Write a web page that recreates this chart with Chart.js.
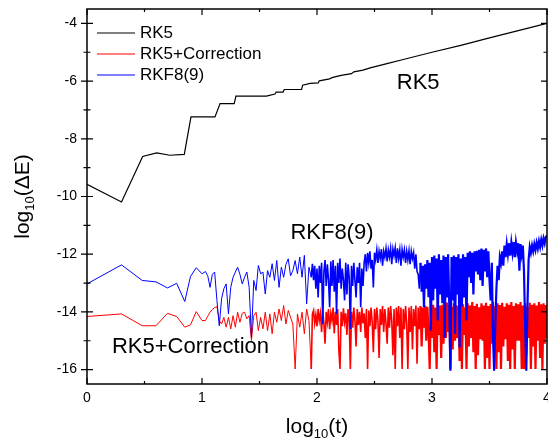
<!DOCTYPE html>
<html>
<head>
<meta charset="utf-8">
<script src="https://cdn.jsdelivr.net/npm/chart.js@4"></script>
<style>
html, body { margin: 0; padding: 0; background: #fff; }
</style>
</head>
<body>
<canvas id="myChart" width="548" height="442"></canvas>
<script>
// RK5 energy error (log10 t, log10 dE)
var rk5X = [0, 0.30, 0.484, 0.606, 0.72, 0.846, 0.904, 1.113, 1.157, 1.28, 1.295, 1.56, 1.635, 1.645, 1.705, 1.715,
  1.866, 1.875, 1.94, 2.01, 2.02, 2.11, 2.13, 2.21, 2.30, 2.32, 2.40, 2.47, 2.6, 2.75, 3.0, 3.25, 3.5, 3.75, 4.0];
var rk5Y = [-9.58, -10.19, -8.61, -8.49, -8.57, -8.54, -7.24, -7.24, -6.78, -6.78, -6.52, -6.52, -6.45, -6.38, -6.38, -6.29,
  -6.29, -6.14, -6.08, -6.06, -5.99, -5.92, -5.88, -5.8, -5.74, -5.68, -5.62, -5.53, -5.4, -5.25, -5.0, -4.76, -4.5, -4.25, -4.0];

// shared sample times for the two noisy runs
var logT = [
  0, 0.3, 0.48, 0.6, 0.7, 0.78, 0.85, 0.9, 0.95, 1,
  1.03, 1.05, 1.07, 1.09, 1.11, 1.13, 1.15, 1.17, 1.19, 1.21,
  1.23, 1.25, 1.27, 1.29, 1.31, 1.33, 1.35, 1.37, 1.39, 1.41,
  1.43, 1.45, 1.47, 1.49, 1.51, 1.53, 1.55, 1.57, 1.59, 1.61,
  1.63, 1.65, 1.67, 1.69, 1.71, 1.73, 1.75, 1.77, 1.79, 1.81,
  1.83, 1.85, 1.87, 1.89, 1.91, 1.93,
  1.95, 1.96, 1.97, 1.98, 1.99,
  2.00, 2.01, 2.02, 2.03, 2.04, 2.05, 2.06, 2.07, 2.08, 2.09,
  2.10, 2.11, 2.12, 2.13, 2.14, 2.15, 2.16, 2.17, 2.18, 2.19,
  2.20, 2.21, 2.22, 2.23, 2.24, 2.25, 2.26, 2.27, 2.28, 2.29,
  2.30, 2.31, 2.32, 2.33, 2.34, 2.35, 2.36, 2.37, 2.38, 2.39,
  2.40, 2.41, 2.42, 2.43, 2.44, 2.45, 2.46, 2.47, 2.48, 2.49,
  2.50, 2.51, 2.52, 2.53, 2.54, 2.55, 2.56, 2.57, 2.58, 2.59,
  2.60, 2.61, 2.62, 2.63, 2.64, 2.65, 2.66, 2.67, 2.68, 2.69,
  2.70, 2.71, 2.72, 2.73, 2.74, 2.75, 2.76, 2.77, 2.78, 2.79,
  2.80, 2.81, 2.82, 2.83, 2.84, 2.85, 2.86, 2.87, 2.88, 2.89,
  2.90, 2.91, 2.92, 2.93, 2.94, 2.95, 2.96, 2.97, 2.98, 2.99,
  3.00, 3.01, 3.02, 3.03, 3.04, 3.05, 3.06, 3.07, 3.08, 3.09,
  3.10, 3.11, 3.12, 3.13, 3.14, 3.15, 3.16, 3.17, 3.18, 3.19,
  3.20, 3.21, 3.22, 3.23, 3.24, 3.25, 3.26, 3.27, 3.28, 3.29,
  3.30, 3.31, 3.32, 3.33, 3.34, 3.35, 3.36, 3.37, 3.38, 3.39,
  3.40, 3.41, 3.42, 3.43, 3.44, 3.45, 3.46, 3.47, 3.48, 3.49,
  3.50, 3.51, 3.52, 3.53, 3.54, 3.55, 3.56, 3.57, 3.58, 3.59,
  3.60, 3.61, 3.62, 3.63, 3.64, 3.65, 3.66, 3.67, 3.68, 3.69,
  3.70, 3.71, 3.72, 3.73, 3.74, 3.75, 3.76, 3.77, 3.78, 3.79,
  3.80, 3.81, 3.82, 3.83, 3.84, 3.85, 3.86, 3.87, 3.88, 3.89,
  3.90, 3.91, 3.92, 3.93, 3.94, 3.95, 3.96, 3.97, 3.98, 3.99,
  4.00
];

var correctedY = [
  -14.16, -14.07, -14.48, -14.48, -14.05, -14.16, -14.53, -14.45, -13.99, -14.3,
  -14.3, -14.15, -14.01, -13.92, -13.85, -13.82, -14.3, -14.42, -14.19, -14.53,
  -14.19, -14.59, -14.13, -14.53, -14.01, -14.36, -14.05, -14.01, -14.24, -14.13,
  -14.99, -14.13, -14.01, -14.65, -14.19, -14.59, -14.01, -14.65, -14.07, -14.76,
  -14.01, -14.36, -13.9, -14.3, -13.78, -14.42, -13.95, -14.19, -14.42, -15.98,
  -14.07, -14.53, -14.01, -14.76, -13.9, -14.3,
  -15.98, -14.07, -13.95, -14.4, -14.1,
  -14.5, -13.9, -14.3, -14.05, -14.7, -13.95, -14.4, -15.1, -14.0, -14.35,
  -13.9, -14.6, -14.05, -14.3, -13.85, -14.75, -14.0, -14.45, -13.9, -15.3,
  -15.98, -14.0, -14.5, -13.88, -14.35, -14.05, -14.8, -13.9, -14.3, -15.98,
  -14.0, -14.55, -13.85, -14.3, -15.2, -13.9, -14.45, -14.0, -14.7, -13.85,
  -14.4, -14.05, -14.9, -13.9, -15.98, -13.95, -14.5, -13.85, -14.35, -15.4,
  -13.9, -14.6, -13.85, -14.3, -15.6, -13.9, -14.45, -13.8, -14.7, -13.9,
  -14.4, -15.1, -13.85, -14.55, -13.8, -14.3, -15.5, -13.9, -15.98, -13.85,
  -14.5, -13.8, -14.9, -13.85, -15.98, -13.9, -14.6, -13.8, -14.4, -15.98,
  -13.85, -14.7, -13.8, -15.3, -13.9, -14.5, -13.78, -15.8, -13.85, -14.6,
  -13.8, -15.2, -13.85, -14.55, -13.78, -15.0, -13.82, -14.7, -15.98, -13.8,
  -14.9, -13.75, -15.4, -13.85, -15.98, -13.7, -14.8, -13.78, -15.6, -13.75,
  -15.1, -13.8, -14.9, -13.68, -14.7, -13.76, -15.98, -13.82, -15.3, -13.7,
  -15.0, -13.76, -14.9, -13.8, -15.7, -13.68, -15.98, -13.74, -14.8, -13.85,
  -15.98, -13.7, -15.2, -13.78, -14.9, -13.66, -15.4, -13.8, -15.98, -13.72,
  -15.5, -13.84, -14.95, -13.7, -15.0, -13.78, -15.98, -13.68, -15.6, -13.8,
  -15.98, -13.73, -15.1, -13.66, -14.9, -13.8, -15.98, -13.7, -15.4, -13.76,
  -15.98, -13.68, -15.2, -13.82, -14.95, -13.7, -15.7, -13.75, -15.98, -13.66,
  -15.3, -13.8, -15.98, -13.7, -15.0, -13.74, -15.0, -13.66, -15.98, -13.78,
  -15.98, -13.7, -15.5, -13.82, -14.9, -13.68, -15.98, -13.75, -15.2, -13.7,
  -15.98, -13.78, -15.0, -13.66, -15.6, -13.74, -15.98, -13.7, -15.1, -13.76,
  -14.9
];

var rkf89Y = [
  -13.03, -12.37, -12.91, -12.96, -13.17, -13.01, -13.64, -12.77, -12.47, -12.68,
  -12.6, -12.75, -13.15, -12.7, -12.62, -13.61, -14.48, -13.55, -13.2, -13.03,
  -14.07, -13.15, -12.8, -12.62, -12.45, -12.7, -13.03, -12.8, -12.62, -13.15,
  -14.88, -12.91, -13.26, -12.39, -12.68, -12.62, -13.38, -12.57, -12.8, -12.33,
  -12.91, -12.22, -13.15, -12.45, -12.8, -12.35, -12.16, -12.75, -12.57, -12.22,
  -12.68, -12.1, -12.8, -12.04, -13.72, -12.45,
  -12.8, -12.33, -12.9, -12.4, -13.2,
  -12.5, -13.5, -12.4, -13.0, -12.3, -14.42, -12.6, -12.2, -13.1, -12.35,
  -12.9, -13.84, -12.25, -13.1, -12.2, -13.3, -12.4, -14.07, -12.3, -13.0,
  -12.15, -13.2, -12.5, -12.9, -13.6, -12.3, -13.4, -12.35, -12.8, -14.59,
  -12.4, -13.1, -12.3, -12.9, -13.5, -12.45, -13.0, -12.3, -13.84, -12.5,
  -13.1, -12.3, -12.0, -12.6, -11.95, -12.3, -11.9, -12.5, -12.2, -13.15,
  -11.95, -12.2, -11.85, -12.3, -11.9, -12.15, -11.82, -12.4, -11.9, -12.1,
  -11.8, -12.25, -11.85, -12.1, -11.8, -12.35, -11.82, -12.05, -11.78, -12.3,
  -11.8, -12.15, -11.85, -12.4, -11.83, -12.1, -11.85, -12.3, -11.9, -12.2,
  -11.88, -12.35, -11.9, -12.15, -11.95, -12.5, -12.0, -12.6, -12.7, -13.2,
  -12.3, -13.3, -12.4, -13.84, -12.35, -13.2, -12.2, -13.49, -12.3, -14.65,
  -12.1, -13.6, -12.05, -13.2, -12.15, -14.3, -12.0, -13.4, -12.2, -13.7,
  -12.05, -14.9, -12.1, -13.5, -12.0, -13.7, -16.04, -12.1, -13.6, -12.05,
  -14.77, -12.1, -13.4, -12.0, -15.23, -12.15, -13.8, -12.0, -13.5, -12.1,
  -14.3, -11.95, -12.8, -11.9, -13.0, -11.95, -13.4, -11.9, -12.6, -11.88,
  -12.7, -11.85, -12.9, -11.8, -13.1, -11.85, -12.6, -11.8, -12.8, -11.9,
  -12.9, -13.6, -12.3, -14.8, -16.04, -14.5, -13.2, -12.4, -12.9, -12.1,
  -12.3, -11.9, -12.4, -11.7, -12.1, -11.65, -12.0, -11.62, -12.05, -11.6,
  -11.95, -11.58, -12.1, -11.6, -11.9, -11.62, -12.57, -11.65, -12.0, -11.7,
  -12.6, -14.5, -16.04, -13.8, -12.2, -11.75, -11.95, -11.7, -11.9, -11.65,
  -11.85, -11.6, -11.8, -11.55, -11.75, -11.5, -11.7, -11.45, -11.62, -11.4,
  -11.35
];

var xTicks = [0, 1, 2, 3, 4];
var xMinor = [0.5, 1.5, 2.5, 3.5];
var yTicks = [-16, -14, -12, -10, -8, -6, -4];
var yMinor = [-15, -13, -11, -9, -7, -5];

var notes = [
  { text: 'RK5', x: 2.88, y: -6.05 },
  { text: 'RKF8(9)', x: 2.13, y: -11.25 },
  { text: 'RK5+Correction', x: 0.9, y: -15.2 }
];

var FONT = '"Liberation Sans", Arial, sans-serif';

function pts(xs, ys) {
  return xs.map(function(x, i) { return { x: x, y: ys[i] }; });
}

// thicker strokes where the samples get dense
function denseWidth(c) {
  var x = c.p0.parsed.x;
  if (x >= 2.9) return 2.2;
  if (x >= 1.94) return 1.6;
  return 1;
}

// log + subscript 10 + tail, centred on x
function logTitle(ctx, x, y, tail) {
  ctx.font = '21px ' + FONT;
  var w1 = ctx.measureText('log').width;
  var w3 = ctx.measureText(tail).width;
  ctx.font = '13px ' + FONT;
  var w2 = ctx.measureText('10').width;
  var left = x - (w1 + w2 + w3) / 2;
  ctx.textAlign = 'left';
  ctx.textBaseline = 'alphabetic';
  ctx.font = '21px ' + FONT;
  ctx.fillText('log', left, y);
  ctx.font = '13px ' + FONT;
  ctx.fillText('10', left + w1, y + 5);
  ctx.font = '21px ' + FONT;
  ctx.fillText(tail, left + w1 + w2, y);
}

var framePlugin = {
  id: 'frame',
  afterDatasetsDraw: function(chart) {
    var ctx = chart.ctx, a = chart.chartArea;
    var xs = chart.scales.x, ys = chart.scales.y;
    ctx.save();
    ctx.strokeStyle = '#000';
    ctx.lineWidth = 1.5;
    ctx.strokeRect(a.left, a.top, a.right - a.left, a.bottom - a.top);
    ctx.lineWidth = 1.2;
    ctx.beginPath();
    function xt(v, len) {
      var p = xs.getPixelForValue(v);
      ctx.moveTo(p, a.bottom); ctx.lineTo(p, a.bottom - len);
      ctx.moveTo(p, a.top); ctx.lineTo(p, a.top + len);
    }
    function yt(v, len) {
      var p = ys.getPixelForValue(v);
      ctx.moveTo(a.left - len, p); ctx.lineTo(a.left + len, p);
      ctx.moveTo(a.right, p); ctx.lineTo(a.right - len, p);
    }
    xTicks.forEach(function(v) { xt(v, 6); });
    xMinor.forEach(function(v) { xt(v, 3); });
    yTicks.forEach(function(v) { yt(v, 6); });
    yMinor.forEach(function(v) { yt(v, 3.5); });
    ctx.stroke();

    // legend, top-left inside the plot
    ctx.font = '17px ' + FONT;
    ctx.textBaseline = 'middle';
    ctx.textAlign = 'left';
    chart.data.datasets.forEach(function(ds, i) {
      var yy = 33 + i * 21;
      ctx.strokeStyle = ds.borderColor;
      ctx.lineWidth = 1.2;
      ctx.beginPath();
      ctx.moveTo(97, yy); ctx.lineTo(135, yy);
      ctx.stroke();
      ctx.fillStyle = '#000';
      ctx.fillText(ds.label, 140, yy);
    });

    // curve labels
    ctx.font = '22px ' + FONT;
    ctx.textAlign = 'center';
    notes.forEach(function(n) {
      ctx.fillText(n.text, xs.getPixelForValue(n.x), ys.getPixelForValue(n.y));
    });

    // axis titles
    ctx.fillStyle = '#000';
    logTitle(ctx, (a.left + a.right) / 2, 433, '(t)');
    ctx.translate(29, (a.top + a.bottom) / 2);
    ctx.rotate(-Math.PI / 2);
    logTitle(ctx, 0, 0, '(\u0394E)');
    ctx.restore();
  }
};

var ctx = document.getElementById('myChart').getContext('2d');
var chart = new Chart(ctx, {
  type: 'line',
  data: {
    datasets: [{
      label: 'RK5',
      data: pts(rk5X, rk5Y),
      borderColor: '#000000',
      borderWidth: 1.2,
      order: 0
    }, {
      label: 'RK5+Correction',
      data: pts(logT, correctedY),
      borderColor: '#ff0000',
      borderWidth: 1,
      segment: { borderWidth: denseWidth },
      order: 2
    }, {
      label: 'RKF8(9)',
      data: pts(logT, rkf89Y),
      borderColor: '#0000ff',
      borderWidth: 1,
      segment: { borderWidth: denseWidth },
      order: 1
    }]
  },
  options: {
    responsive: false,
    animation: false,
    layout: { padding: { left: 0, right: 1, top: 9, bottom: 0 } },
    elements: { point: { radius: 0 }, line: { tension: 0 } },
    plugins: { legend: { display: false }, tooltip: { enabled: false } },
    scales: {
      x: {
        type: 'linear', min: 0, max: 4,
        grid: { display: false, drawTicks: false }, border: { display: false },
        ticks: { color: '#000', padding: 6, font: { family: FONT, size: 14 }, maxRotation: 0 },
        afterBuildTicks: function(s) { s.ticks = xTicks.map(function(v) { return { value: v }; }); },
        afterFit: function(s) { s.height = 58; s.paddingLeft = 0; s.paddingRight = 0; }
      },
      y: {
        type: 'linear', min: -16.5, max: -3.5,
        grid: { display: false, drawTicks: false }, border: { display: false },
        ticks: { color: '#000', padding: 10, font: { family: FONT, size: 14 } },
        afterBuildTicks: function(s) { s.ticks = yTicks.map(function(v) { return { value: v }; }); },
        afterFit: function(s) { s.width = 87; s.paddingTop = 0; s.paddingBottom = 0; }
      }
    }
  },
  plugins: [framePlugin]
});
</script>
</body>
</html>
